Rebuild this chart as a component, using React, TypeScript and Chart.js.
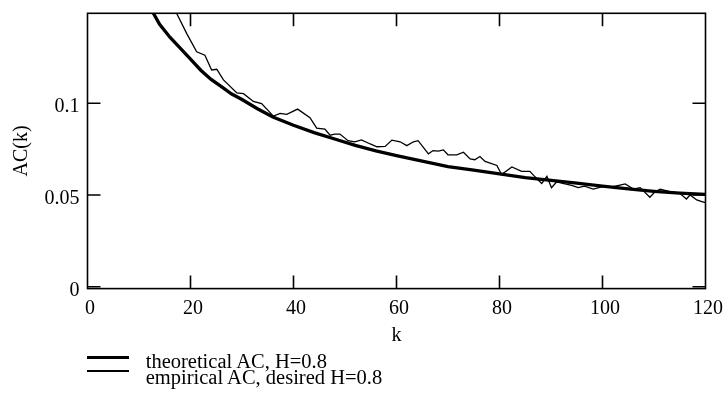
import React, { useEffect, useRef } from "react";
import { Chart, registerables } from "chart.js";

Chart.register(...registerables);

// Theoretical autocorrelation
const kTheory = [10, 12, 14, 16, 18, 20, 22, 24, 26, 28, 30, 33, 36, 40, 44, 48, 52, 56, 60, 65, 70, 75, 80, 85, 90, 95, 100, 105, 110, 115, 120];
const acTheory = [0.165, 0.153, 0.143, 0.136, 0.13, 0.124, 0.118, 0.113, 0.109, 0.105, 0.102, 0.097, 0.0925, 0.088, 0.084, 0.0805, 0.077, 0.074, 0.0715, 0.0685, 0.0655, 0.0635, 0.0615, 0.0595, 0.058, 0.0565, 0.0548, 0.0533, 0.052, 0.051, 0.0503];

// Empirical autocorrelation
const kEmp = [15, 16, 17.3, 19.3, 21.2, 22.8, 24.1, 25.1, 26.4, 29, 30.3, 32.2, 33.8, 36.1, 37.4, 38.7, 40.8, 43.2, 44.5, 46.1, 47.1, 48, 49, 50.6, 51.9, 53.2, 54.9, 56.2, 57.8, 59.1, 60.7, 62, 63.3, 64.2, 66.2, 67.1, 68.1, 69.1, 70, 71.7, 73, 74.3, 75.2, 76.2, 77.2, 79.5, 80.4, 82.4, 84.3, 85.9, 86.9, 88.2, 89.2, 90.1, 91.1, 92.5, 94, 95.3, 96.5, 98.2, 100, 102, 103.4, 104.4, 106, 107.3, 109.2, 110.2, 111.2, 113.1, 115, 116.3, 117, 118.3, 119.3, 120];
const acEmp = [0.165, 0.158, 0.149, 0.1378, 0.128, 0.1262, 0.1181, 0.1185, 0.1127, 0.1056, 0.1052, 0.101, 0.0998, 0.093, 0.0945, 0.0939, 0.0968, 0.0921, 0.0864, 0.0859, 0.0826, 0.0832, 0.0832, 0.0796, 0.079, 0.08, 0.0778, 0.0763, 0.0765, 0.0799, 0.079, 0.0769, 0.079, 0.0796, 0.0724, 0.0742, 0.0739, 0.0746, 0.0719, 0.0719, 0.0733, 0.0697, 0.0692, 0.071, 0.0683, 0.0661, 0.0611, 0.0653, 0.0629, 0.0629, 0.0599, 0.0563, 0.0602, 0.054, 0.0572, 0.0562, 0.0552, 0.054, 0.0548, 0.0532, 0.0545, 0.0545, 0.0554, 0.056, 0.0532, 0.054, 0.0488, 0.0518, 0.0531, 0.0518, 0.0509, 0.0478, 0.05, 0.0473, 0.0464, 0.0458];

const xTicks = [0, 20, 40, 60, 80, 100, 120];
const yTicks = [0, 0.05, 0.1];
const yTickLabels = ["0", "0.05", "0.1"];

const seriesLabels = ["theoretical AC, H=0.8", "empirical AC, desired H=0.8"];

const FONT = "'Liberation Serif', 'Times New Roman', serif";

const framePlugin = {
  id: "frameTicks",
  afterDraw(chart: any) {
    const { ctx, chartArea } = chart;
    const { left, right, top, bottom } = chartArea;
    const xs = chart.scales.x;
    const ys = chart.scales.y;
    const len = 13;
    ctx.save();
    ctx.strokeStyle = "#000";
    ctx.lineWidth = 1.6;
    ctx.strokeRect(left, top, right - left, bottom - top);
    ctx.beginPath();
    xTicks.forEach((v) => {
      if (v === xs.min || v === xs.max) return;
      const px = xs.getPixelForValue(v);
      ctx.moveTo(px, bottom);
      ctx.lineTo(px, bottom - len);
      ctx.moveTo(px, top);
      ctx.lineTo(px, top + len);
    });
    yTicks.forEach((v) => {
      const py = ys.getPixelForValue(v);
      ctx.moveTo(left, py);
      ctx.lineTo(left + len, py);
      ctx.moveTo(right, py);
      ctx.lineTo(right - len, py);
    });
    ctx.stroke();
    ctx.restore();
  },
};

function zeroPadding(scale: any) {
  scale.paddingTop = 0;
  scale.paddingBottom = 0;
  scale.paddingLeft = 0;
  scale.paddingRight = 0;
}

export default function App() {
  const canvasRef = useRef<HTMLCanvasElement | null>(null);

  useEffect(() => {
    if (!canvasRef.current) return;
    const chart = new Chart(canvasRef.current, {
      type: "line",
      data: {
        datasets: [
          {
            label: seriesLabels[0],
            data: kTheory.map((k, i) => ({ x: k, y: acTheory[i] })),
            borderColor: "#000",
            borderWidth: 3.3,
            pointRadius: 0,
            tension: 0,
            clip: 0,
          },
          {
            label: seriesLabels[1],
            data: kEmp.map((k, i) => ({ x: k, y: acEmp[i] })),
            borderColor: "#000",
            borderWidth: 1.3,
            pointRadius: 0,
            tension: 0,
            clip: 0,
          },
        ],
      },
      options: {
        responsive: false,
        animation: false,
        layout: { padding: { left: 10, right: 17.5, top: 13.3, bottom: 46 } },
        plugins: {
          legend: { display: false },
          tooltip: { enabled: false },
        },
        scales: {
          x: {
            type: "linear",
            min: 0,
            max: 120,
            grid: { display: false, drawTicks: false },
            border: { display: false },
            afterBuildTicks: (scale: any) => {
              scale.ticks = xTicks.map((v) => ({ value: v }));
            },
            afterFit: (scale: any) => {
              scale.height = 59.4;
              zeroPadding(scale);
            },
            ticks: {
              padding: 7.7,
              labelOffset: 2.5,
              maxRotation: 0,
              autoSkip: false,
              color: "#000",
              font: { family: FONT, size: 20 },
              callback: (v: any) => String(v),
            },
            title: {
              display: true,
              text: "k",
              color: "#000",
              padding: 0,
              font: { family: FONT, size: 20 },
            },
          },
          y: {
            type: "linear",
            min: -0.001,
            max: 0.149,
            grid: { display: false, drawTicks: false },
            border: { display: false },
            afterBuildTicks: (scale: any) => {
              scale.ticks = yTicks.map((v) => ({ value: v }));
            },
            afterFit: (scale: any) => {
              scale.width = 77.5;
              zeroPadding(scale);
            },
            ticks: {
              padding: 8,
              labelOffset: 4,
              autoSkip: false,
              color: "#000",
              font: { family: FONT, size: 20 },
              callback: (v: any) => {
                const i = yTicks.indexOf(v);
                return i >= 0 ? yTickLabels[i] : "";
              },
            },
            title: {
              display: true,
              text: "AC(k)",
              color: "#000",
              padding: 0,
              font: { family: FONT, size: 20 },
            },
          },
        },
      },
      plugins: [framePlugin],
    });
    return () => chart.destroy();
  }, []);

  const textStyle: React.CSSProperties = {
    position: "absolute",
    left: 145.7,
    fontFamily: FONT,
    fontSize: 20.5,
    lineHeight: "20px",
    whiteSpace: "nowrap",
    color: "#000",
  };

  return (
    <div style={{ position: "fixed", left: 0, top: 0, width: 723, height: 394, background: "#fff" }}>
      <canvas ref={canvasRef} width={723} height={394} style={{ width: 723, height: 394, display: "block" }} />
      <div style={{ position: "absolute", left: 86.7, top: 357.7 - 1.6, width: 42.6, height: 3.2, background: "#000" }} />
      <div style={{ position: "absolute", left: 86.7, top: 371 - 0.65, width: 42.6, height: 1.3, background: "#000" }} />
      <span style={{ ...textStyle, top: 350.7 }}>{seriesLabels[0]}</span>
      <span style={{ ...textStyle, top: 366.7 }}>{seriesLabels[1]}</span>
    </div>
  );
}
